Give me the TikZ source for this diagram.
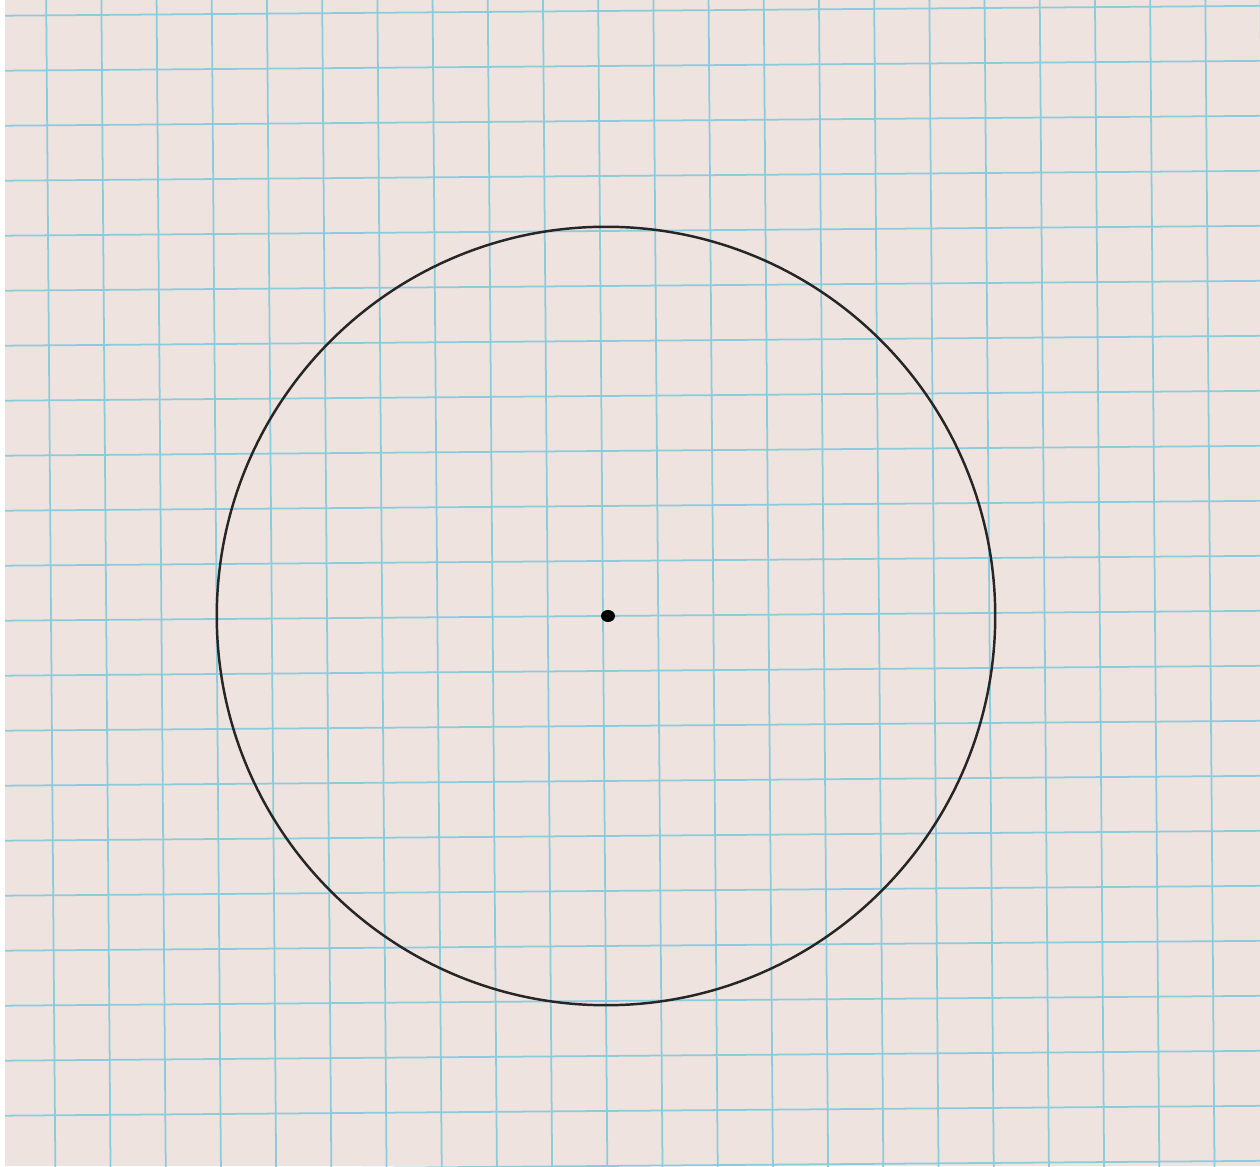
\documentclass[tikz,border=0pt]{standalone}
\usetikzlibrary{calc}
\definecolor{papel}{RGB}{238,227,223}
\definecolor{cuadricula}{RGB}{138,204,220}
\begin{document}
\begin{tikzpicture}[x=0.01cm,y=0.01cm]
    % Hoja de papel cuadriculado
    \fill[papel] (0,0) rectangle (1260,1166);
    \fill[white] (0,0) rectangle (5,1166);
    \useasboundingbox (0,0) rectangle (1260,1166);
    \coordinate (centro) at (606,550);
    % Lineas de la cuadricula (ligeramente giradas)
    \begin{scope}
        \clip (5,0) rectangle (1260,1166);
        \begin{scope}[rotate around={0.45:(603,550)}]
            \foreach \k in {-12,...,12} {
                \draw[cuadricula, line width=0.5pt]
                    ({603+55.2*\k},-150) -- ({603+55.2*\k},1320);
                \draw[cuadricula, line width=0.5pt]
                    (-150,{550+55.0*\k}) -- (1420,{550+55.0*\k});
            }
        \end{scope}
    \end{scope}
    % Circulo
    \draw[black!85, line width=0.7pt] (centro) circle[radius=3.89cm];
    % Punto central
    \fill[black] ($(centro)+(2,0)$) ellipse[x radius=0.07cm, y radius=0.06cm];
\end{tikzpicture}
\end{document}
